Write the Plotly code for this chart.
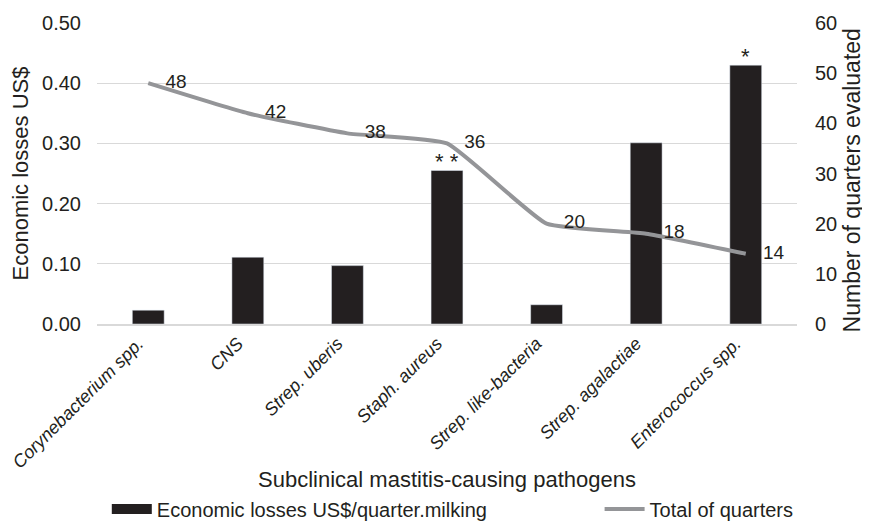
import plotly.graph_objects as go

categories = ["<i>Corynebacterium spp.</i>", "<i>CNS</i>", "<i>Strep. uberis</i>", "<i>Staph. aureus</i>",
              "<i>Strep. like-bacteria</i>", "<i>Strep. agalactiae</i>", "<i>Enterococcus spp.</i>"]
losses = [0.023, 0.111, 0.097, 0.255, 0.032, 0.301, 0.430]
quarters = [48, 42, 38, 36, 20, 18, 14]
signif = ["", "", "", "* *", "", "", "*"]

BAR = "#231f20"
LINE = "#949598"
TXT = "#231f20"
FONT = "Liberation Sans, Arial, sans-serif"

fig = go.Figure()
fig.add_trace(go.Bar(x=categories, y=losses, marker_color=BAR, width=0.32,
                     showlegend=False, yaxis="y"))
# legend proxy for bars (wide swatch)
fig.add_trace(go.Scatter(x=[None], y=[None], mode="lines", line=dict(color=BAR, width=10),
                         name="Economic losses US$/quarter.milking", legend="legend"))
fig.add_trace(go.Scatter(x=categories, y=quarters, mode="lines+markers+text", text=[str(q) for q in quarters],
                         textposition="middle right", textfont=dict(size=19, color=TXT),
                         marker=dict(size=26, color="rgba(0,0,0,0)"),
                         line=dict(color=LINE, width=4, shape="spline", smoothing=0.4),
                         name="Total of quarters", yaxis="y2", cliponaxis=False, legend="legend2"))

for c, v, s in zip(categories, losses, signif):
    if s:
        fig.add_annotation(x=c, y=v, text=s, showarrow=False, yanchor="bottom", yshift=-6,
                           font=dict(size=22, color=TXT))

fig.add_annotation(xref="paper", yref="paper", x=-0.11, y=0.5, xanchor="center", yanchor="middle",
                   text="Economic losses US$", textangle=-90, showarrow=False,
                   font=dict(size=22, color=TXT))
fig.add_annotation(xref="paper", yref="paper", x=1.079, y=0.478, xanchor="center", yanchor="middle",
                   text="Number of quarters evaluated", textangle=-90, showarrow=False,
                   font=dict(size=23, color=TXT))

# page body has an 8px margin, so the figure is sized to fit the 870x521 window
fig.update_layout(
    width=862, height=513,
    margin=dict(l=89, r=73, t=15, b=197, autoexpand=False),
    paper_bgcolor="white", plot_bgcolor="white",
    font=dict(family=FONT, color=TXT),
    bargap=0.68,
    xaxis=dict(tickangle=-45, tickfont=dict(size=18), showgrid=False, showline=True,
               linecolor="#d9d9d9", linewidth=2, ticks="", automargin=False,
               ticklabelstandoff=0, ticklabelshift=-10,
               title=dict(text="Subclinical mastitis-causing pathogens", font=dict(size=22), standoff=0)),
    yaxis=dict(range=[0, 0.5], dtick=0.1, tickformat=".2f", showgrid=True, gridcolor="#d9d9d9",
               gridwidth=1, zeroline=False, tickfont=dict(size=20), ticks="", ticklabelstandoff=15,
               automargin=False),
    yaxis2=dict(range=[0, 60], dtick=10, overlaying="y", side="right", showgrid=False,
                zeroline=False, tickfont=dict(size=20), ticklabelstandoff=17, automargin=False),
    legend=dict(orientation="h", x=0.014, xanchor="left", y=-0.615, yanchor="middle",
                font=dict(size=20), itemwidth=40, bgcolor="rgba(0,0,0,0)"),
    legend2=dict(orientation="h", x=0.718, xanchor="left", y=-0.615, yanchor="middle",
                 font=dict(size=20), itemwidth=40, bgcolor="rgba(0,0,0,0)"),
)

fig.write_html("out.html")
